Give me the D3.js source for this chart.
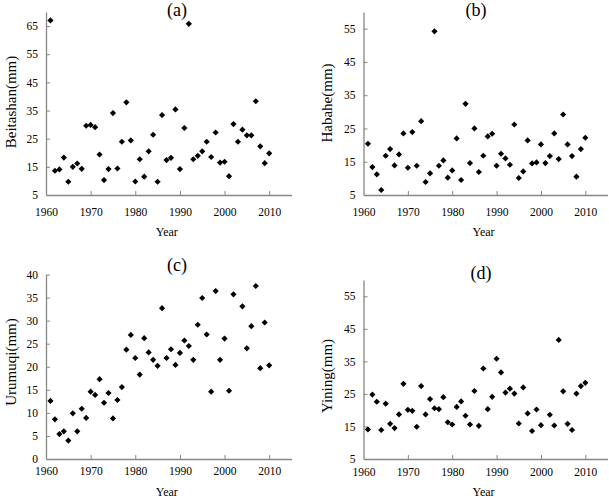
<!DOCTYPE html>
<html><head><meta charset="utf-8">
<script src="https://cdn.jsdelivr.net/npm/d3@7"></script>
<style>body{margin:0;background:#fff}svg{display:block}text{font-family:"Liberation Serif","Times New Roman",serif;fill:#000}</style>
</head><body><svg id="c" width="609" height="500"></svg>
<script>
const years = d3.range(1961, 2011);
const beitashan = [67.0,13.6,14.1,18.3,9.7,15.0,16.2,14.3,29.6,29.9,29.1,19.4,10.3,14.2,34.1,14.4,23.9,37.9,24.4,9.8,17.7,11.5,20.5,26.4,9.7,33.4,17.4,18.2,35.4,14.2,28.8,65.8,17.7,18.9,20.5,23.9,18.5,27.2,16.5,16.8,11.7,30.2,23.9,28.2,26.2,26.2,38.3,22.3,16.3,19.8];
const habahe = [20.4,13.4,11.2,6.5,16.8,18.8,13.9,17.2,23.5,13.2,23.9,13.8,27.2,8.9,11.5,54.2,13.8,15.4,10.2,12.4,22.0,9.5,32.4,14.6,25.0,11.9,16.8,22.6,23.4,13.8,17.4,16.0,14.1,26.2,10.1,12.1,21.4,14.5,14.8,20.2,14.6,16.7,23.5,15.8,29.2,20.2,16.7,10.5,18.8,22.2];
const urumuqi = [12.6,8.6,5.4,6.0,4.0,9.9,6.0,10.9,8.9,14.6,13.9,17.3,12.2,14.3,8.8,12.8,15.6,23.7,26.9,21.9,18.3,26.2,23.1,21.5,20.2,32.7,21.9,23.8,20.4,23.0,25.7,24.5,21.5,29.1,34.9,27.0,14.6,36.4,21.5,26.1,14.8,35.7,null,33.1,24.0,28.8,37.5,19.7,29.6,20.3];
const yining = [14.1,24.8,22.6,13.9,22.0,15.8,14.5,18.7,28.1,20.1,19.8,14.9,27.4,18.7,23.4,20.6,20.3,24.0,16.3,15.6,21.0,22.7,18.3,15.6,25.9,15.2,32.8,20.3,24.1,35.8,31.6,25.4,26.6,25.1,15.9,27.0,19.0,13.6,20.2,15.4,null,18.6,15.3,41.6,25.8,15.8,13.9,25.1,27.4,28.4];
const xTicks = [1960,1970,1980,1990,2000,2010];
const titles = ["(a)","(b)","(c)","(d)"];
const yLabels = ["Beitashan(mm)","Habahe(mm)","Urumuqi(mm)","Yining(mm)"];
const yDomains = [[5,70],[5,60],[0,40],[5,60]];
const yTicks = [d3.range(5,70,10), d3.range(5,60,10), d3.range(0,41,5), d3.range(5,60,10)];
const series = [beitashan, habahe, urumuqi, yining];

const panels = [
  {l:46, r:291.5, t:12, b:195, tx:177, ty:16, ylx:11, yly:102, xlab:16.5, yearY:236},
  {l:363.5, r:607.5, t:12, b:195, tx:476, ty:16, ylx:327, yly:103, xlab:16.5, yearY:236},
  {l:46, r:291.5, t:274.5, b:459, tx:177, ty:271, ylx:11, yly:362, xlab:11.5, yearY:495.5},
  {l:363.5, r:607.5, t:280, b:459, tx:481, ty:279, ylx:327, yly:376, xlab:12.5, yearY:495.5}
];
const svg = d3.select("#c");
const axisColor = "#868686";
const diamond = d3.symbol(d3.symbolSquare, 19);

panels.forEach((p,i) => {
  const x = d3.scaleLinear().domain([1960,2015]).range([p.l,p.r]);
  const y = d3.scaleLinear().domain(yDomains[i]).range([p.b,p.t]);
  const g = svg.append("g");
  const xa = g.append("g").attr("transform",`translate(0,${p.b})`)
    .call(d3.axisBottom(x).tickValues(xTicks).tickFormat(d3.format("d")).tickSizeInner(-4).tickSizeOuter(0).tickPadding(0));
  xa.select(".domain").attr("stroke",axisColor).attr("stroke-width",1.3);
  xa.selectAll(".tick line").attr("stroke",axisColor);
  xa.selectAll(".tick text").attr("font-size","11.5px").attr("dy",null).attr("y",p.xlab+4);
  const ya = g.append("g").attr("transform",`translate(${p.l},0)`)
    .call(d3.axisLeft(y).tickValues(yTicks[i]).tickSizeInner(-4).tickSizeOuter(0).tickPadding(0));
  ya.select(".domain").attr("stroke",axisColor).attr("stroke-width",1.3);
  ya.selectAll(".tick line").attr("stroke",axisColor);
  ya.selectAll(".tick text").attr("font-size","11.5px").attr("x",-8);
  ya.selectAll(".tick").filter(d => d === yDomains[i][0]).select("line").remove();
  xa.selectAll(".tick").filter(d => d === 1960).select("line").remove();
  const pts = years.map((yr,k)=>({yr, v: series[i][k]})).filter(d=>d.v!=null);
  g.selectAll("path.pt").data(pts).enter().append("path").attr("class","pt")
    .attr("d", diamond).attr("fill","#000")
    .attr("transform", d=>`translate(${x(d.yr)},${y(d.v)}) rotate(45)`);
  g.append("text").attr("x",p.tx).attr("y",p.ty).attr("text-anchor","middle").attr("font-size","18px").text(titles[i]);
  g.append("text").attr("x",(p.l+p.r)/2-2).attr("y",p.yearY).attr("text-anchor","middle").attr("font-size","12px").text("Year");
  g.append("text").attr("transform",`translate(${p.ylx},${p.yly}) rotate(-90)`).attr("text-anchor","middle")
    .attr("dy","0.35em").attr("font-size","15px").text(yLabels[i]);
});
</script></body></html>
